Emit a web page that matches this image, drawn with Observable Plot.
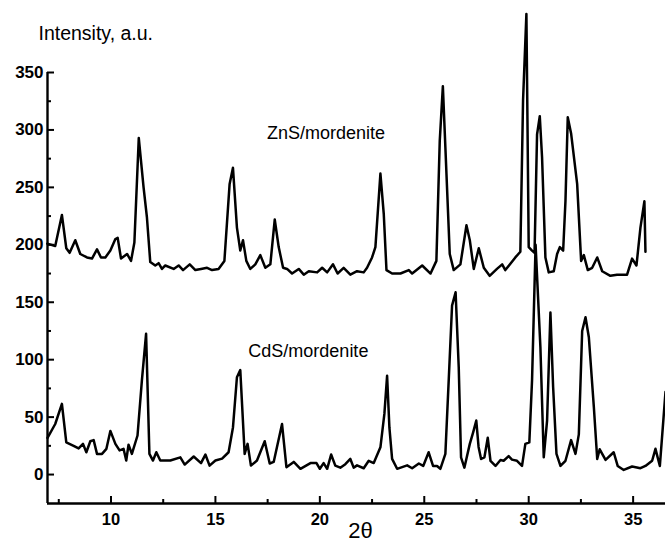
<!DOCTYPE html>
<html>
<head>
<meta charset="utf-8">
<script src="https://cdn.jsdelivr.net/npm/d3@7"></script>
<script src="https://cdn.jsdelivr.net/npm/@observablehq/plot@0.6"></script>
<style>
  html, body { margin: 0; padding: 0; background: #fff; }
  #chart { width: 665px; height: 542px; }
  svg { font-family: "Liberation Sans", Arial, sans-serif; }
</style>
</head>
<body>
<div id="chart"></div>
<script>
// ZnS/mordenite pattern (2θ, intensity)
const znsTheta = [6.95,7.33,7.65,7.86,8.02,8.29,8.53,8.85,9.09,9.33,9.52,9.73,9.97,10.21,10.32,10.48,10.77,10.96,11.12,11.33,11.56,11.72,11.88,12.12,12.28,12.44,12.6,13.0,13.24,13.45,13.77,14.04,14.31,14.6,14.84,15.15,15.43,15.68,15.84,16.03,16.19,16.32,16.48,16.67,16.91,17.15,17.39,17.63,17.84,18.03,18.24,18.43,18.67,18.99,19.23,19.47,19.87,20.11,20.35,20.63,20.85,21.14,21.46,21.78,22.1,22.26,22.5,22.66,22.9,23.06,23.19,23.46,23.86,24.26,24.42,24.9,25.3,25.58,25.74,25.89,26.01,26.22,26.41,26.73,27.02,27.18,27.37,27.61,27.85,28.13,28.48,28.73,28.88,29.36,29.6,29.73,29.89,30.0,30.16,30.28,30.4,30.53,30.64,30.8,30.96,31.2,31.36,31.49,31.65,31.76,31.87,32.03,32.32,32.51,32.64,32.83,33.04,33.28,33.52,33.91,34.23,34.71,34.95,35.16,35.35,35.54,35.59];
const znsIntensity = [201,199,226,197,193,204,192,189,188,196,189,189,195,205,206,188,192,186,202,293,250,224,185,182,184,179,182,179,182,178,183,178,179,180,178,179,186,253,267,215,195,204,186,179,183,191,180,183,222,198,180,179,175,179,174,177,176,180,176,183,175,180,174,177,176,180,189,198,262,227,178,175,175,178,175,182,175,186,290,338,285,192,178,183,217,204,179,197,180,173,179,183,178,189,194,326,401,198,195,193,296,312,276,189,176,177,192,198,195,238,311,297,253,186,191,178,180,189,177,173,174,174,188,182,215,238,194];

// CdS/mordenite pattern (2θ, intensity)
const cdsTheta = [6.96,7.33,7.65,7.86,8.21,8.45,8.66,8.82,9.01,9.17,9.33,9.57,9.78,9.97,10.21,10.41,10.6,10.73,10.84,11.0,11.27,11.48,11.68,11.84,12.01,12.17,12.36,12.84,13.32,13.53,13.96,14.31,14.52,14.72,15.0,15.32,15.63,15.84,16.03,16.19,16.4,16.54,16.7,16.99,17.36,17.6,17.79,18.19,18.4,18.75,19.07,19.55,19.84,20.0,20.18,20.35,20.54,20.74,20.98,21.22,21.46,21.62,21.78,22.1,22.34,22.58,22.9,23.09,23.22,23.33,23.46,23.7,24.18,24.42,24.74,24.95,25.21,25.42,25.61,25.77,26.01,26.17,26.33,26.5,26.65,26.76,26.92,27.18,27.34,27.49,27.6,27.72,27.88,28.04,28.17,28.41,28.65,28.8,29.04,29.2,29.44,29.68,29.84,30.03,30.16,30.33,30.56,30.72,30.88,31.04,31.17,31.33,31.52,31.76,32.03,32.24,32.4,32.56,32.72,32.88,33.12,33.28,33.4,33.68,34.07,34.26,34.55,34.95,35.35,35.59,35.91,36.07,36.28,36.55];
const cdsIntensity = [32,44,61.5,28,25,22.7,26.7,19.4,29,30,18,18,22.4,38,26.7,21,22.4,12.2,26,18,34,82,122.5,18,12.2,19.4,12.2,12.2,15,8.7,15.7,10,17.4,7.8,12.2,13.9,19.4,41,84.7,91,18,26.7,7.8,12.2,29,9.6,11,44,6.4,11,5,10,10,5,10,5,17.4,7.8,6,9,13.6,6,8,5.5,12,10,23.7,52.8,86,41,13.6,5,8,5.5,9.6,7.5,19.4,7.5,7.5,5,18,82,147,158.7,93.4,15,6,26.7,36.8,47,24,13.6,15,32,12,7.5,12.7,12,16,13,12,7.5,26.7,28,82,200,111,15,47,141,76,18,7.5,12,30,18,35,125,137,119.5,58.6,13.6,22,12.7,19.4,7.5,4,7,5.5,7.5,12,22.4,7.5,72];

// Axis ticks and labels
const xMajorTicks = [10, 15, 20, 25, 30, 35];
const xMinorTicks = [7.5, 12.5, 17.5, 22.5, 27.5, 32.5];
const yMajorTicks = [0, 50, 100, 150, 200, 250, 300, 350];
const yMinorTicks = [25, 75, 125, 175, 225, 275, 325];
const xDomain = [6.96, 36.55];
const yDomain = [-25.2, 350];

const seriesLabels = ["ZnS/mordenite", "CdS/mordenite"];
const labelTheta = [20.3, 19.45];
const labelIntensity = [297, 107];

const zns = znsTheta.map((t, i) => ({theta: t, intensity: znsIntensity[i]}));
const cds = cdsTheta.map((t, i) => ({theta: t, intensity: cdsIntensity[i]}));
const labels = seriesLabels.map((s, i) => ({text: s, theta: labelTheta[i], intensity: labelIntensity[i]}));

const fontFam = "Liberation Sans, Arial, sans-serif";

const chart = Plot.plot({
  width: 665,
  height: 542,
  marginLeft: 47,
  marginRight: 0,
  marginTop: 72,
  marginBottom: 39,
  style: {fontFamily: fontFam, background: "#fff", color: "#000", overflow: "visible"},
  x: {domain: xDomain},
  y: {domain: yDomain},
  marks: [
    // major / minor inward ticks on x
    Plot.axisX({ticks: xMajorTicks, tickSize: 7, dy: -7, tickFormat: () => "", label: null, strokeWidth: 2}),
    Plot.axisX({ticks: xMinorTicks, tickSize: 4, dy: -4, tickFormat: () => "", label: null, strokeWidth: 2}),
    Plot.axisX({ticks: xMajorTicks, tickSize: 0, tickPadding: 10, fontSize: 16.5, fontWeight: "bold", label: null}),
    // y ticks inward
    Plot.axisY({ticks: yMajorTicks, tickSize: 7, dx: 7, tickFormat: () => "", label: null, strokeWidth: 2}),
    Plot.axisY({ticks: yMinorTicks, tickSize: 4, dx: 4, tickFormat: () => "", label: null, strokeWidth: 2}),
    Plot.axisY({ticks: yMajorTicks, tickSize: 0, tickPadding: 4, fontSize: 17, fontWeight: "bold", label: null}),
    // axis lines
    Plot.ruleX([xDomain[0]], {y1: yDomain[0], y2: yDomain[1], strokeWidth: 2.4}),
    Plot.ruleY([yDomain[0]], {strokeWidth: 2.4}),
    // data
    Plot.line(zns, {x: "theta", y: "intensity", stroke: "#000", strokeWidth: 2.5, strokeLinejoin: "round"}),
    Plot.line(cds, {x: "theta", y: "intensity", stroke: "#000", strokeWidth: 2.5, strokeLinejoin: "round"}),
    Plot.text(labels, {x: "theta", y: "intensity", text: "text", fontSize: 18, fill: "#000"}),
    // axis titles
    Plot.text(["Intensity, a.u."], {frameAnchor: "top-left", lineAnchor: "middle", dx: -9, dy: -39, textAnchor: "start", fontSize: 19.5, fill: "#000"}),
    Plot.text(["2θ"], {frameAnchor: "bottom", lineAnchor: "middle", dx: 4, dy: 27, fontSize: 22, fill: "#000"})
  ]
});
document.getElementById("chart").appendChild(chart);
</script>
</body>
</html>
